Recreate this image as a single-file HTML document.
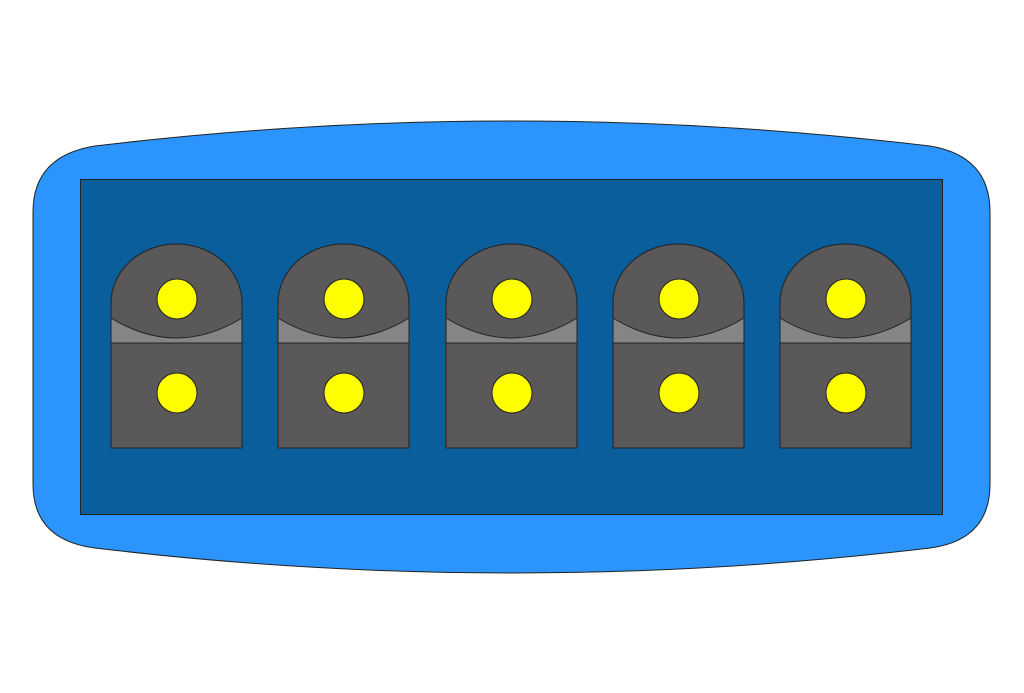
<!DOCTYPE html>
<html><head><meta charset="utf-8"><style>html,body{margin:0;padding:0;background:#fff}svg{display:block}</style></head>
<body>
<svg width="1024" height="693" viewBox="0 0 1024 693" xmlns="http://www.w3.org/2000/svg">
<defs>
<g id="c">
  <rect x="0" y="303" width="131" height="145" fill="#5a5858" stroke="#222" stroke-width="1"/>
  <rect x="0" y="303" width="131" height="40" fill="#858585" stroke="none"/>
  <path d="M0,303 A65.5,59 0 0 1 131,303 L131,318 Q65.5,358 0,318 Z" fill="#5a5858" stroke="none"/>
  <path d="M0,318 Q65.5,358 131,318" fill="none" stroke="#222" stroke-width="1"/>
  <path d="M0,448 L0,303 A65.5,59 0 0 1 131,303 L131,448" fill="none" stroke="#222" stroke-width="1"/>
  <line x1="0" y1="343" x2="131" y2="343" stroke="#222" stroke-width="1"/>
  <circle cx="66" cy="299" r="20" fill="#ffff00" stroke="#222" stroke-width="1"/>
  <circle cx="66" cy="393" r="20" fill="#ffff00" stroke="#222" stroke-width="1"/>
</g>
</defs>
<path d="M95,146 Q512,96 930,146 Q990,156 990,212 L990,484 Q990,540 930,548 Q512,598 95,548 Q33,540 33,484 L33,212 Q33,156 95,146 Z" fill="#2b94fd" stroke="#222" stroke-width="1"/>
<rect x="80.5" y="179.5" width="862" height="335" fill="#0a5e9c" stroke="#222" stroke-width="1"/>
<use href="#c" x="111"/>
<use href="#c" x="278"/>
<use href="#c" x="446"/>
<use href="#c" x="613"/>
<use href="#c" x="780"/>
</svg>
</body></html>
